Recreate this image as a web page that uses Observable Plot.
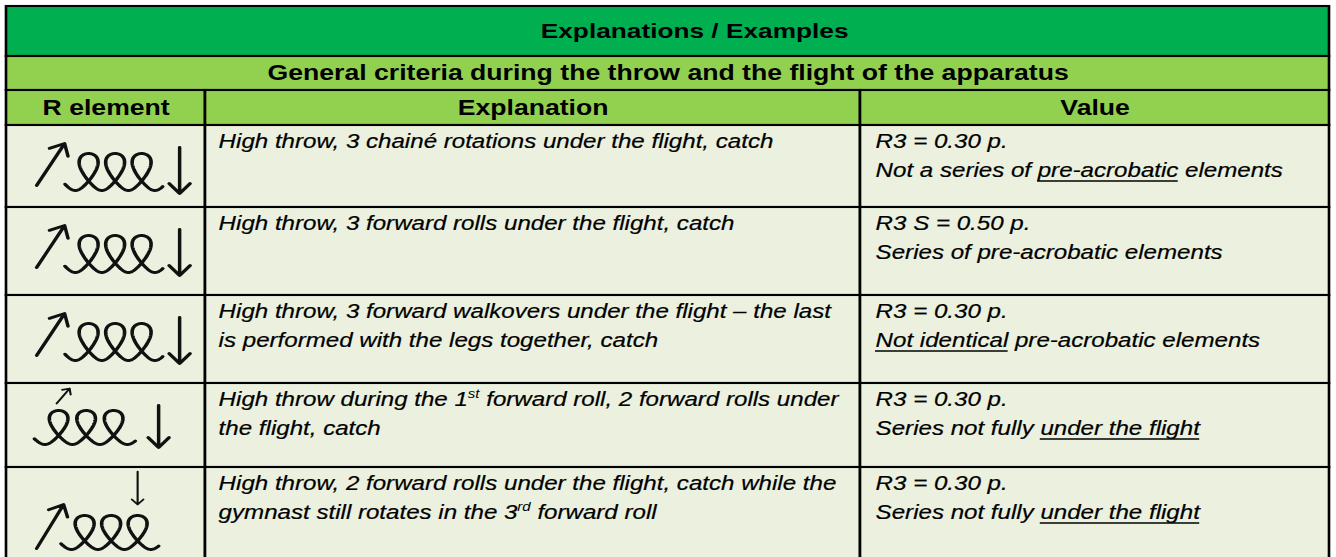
<!DOCTYPE html>
<html>
<head>
<meta charset="utf-8">
<script src="https://cdn.jsdelivr.net/npm/d3@7"></script>
<script src="https://cdn.jsdelivr.net/npm/@observablehq/plot@0.6"></script>
<style>
html, body { margin: 0; padding: 0; background: #ffffff; overflow: hidden; }
#chart svg { display: block; }
</style>
</head>
<body>
<div id="chart"></div>
<script>
// ---------- data ----------
const title = "Explanations / Examples";
const subtitle = "General criteria during the throw and the flight of the apparatus";
const columnHeaders = ["R element", "Explanation", "Value"];
// R element symbol of each row (drawn below): throw arrow, series of rotations, catch arrow
const elementSymbols = ["throw-series-catch", "throw-series-catch", "throw-series-catch", "throw-in-first-catch", "throw-series-catch-in-last"];
const rotationCounts = [3, 3, 3, 3, 3];
// _text_ = underlined, ^text^ = superscript
const explanations = [
  ["High throw, 3 chainé rotations under the flight, catch"],
  ["High throw, 3 forward rolls under the flight, catch"],
  ["High throw, 3 forward walkovers under the flight – the last", "is performed with the legs together, catch"],
  ["High throw during the 1^st^ forward roll, 2 forward rolls under", "the flight, catch"],
  ["High throw, 2 forward rolls under the flight, catch while the", "gymnast still rotates in the 3^rd^ forward roll"]
];
const values = [
  ["R3 = 0.30 p.", "Not a series of _pre-acrobatic_ elements"],
  ["R3 S = 0.50 p.", "Series of pre-acrobatic elements"],
  ["R3 = 0.30 p.", "_Not identical_ pre-acrobatic elements"],
  ["R3 = 0.30 p.", "Series not fully _under the flight_"],
  ["R3 = 0.30 p.", "Series not fully _under the flight_"]
];

// ---------- layout ----------
const S = 1.25;                 // horizontal stretch of the reference
const W = 1336, H = 557, WP = W / S;
const colX = [6, 205, 860, 1329];
const rowY = [6, 56, 90, 125, 207, 295, 383, 467, 562];
const titleX = 694;
const padX = 13, firstLine = 16, lineStep = 29.5;
const BODY = 19.3, SUP = 12, TITLE = 21, BOLD = 21.3;
const FONT = "'Liberation Sans', Arial, Helvetica, sans-serif";
const COLORS = { title: "#00B050", header: "#92D050", body: "#EBF1DE", ink: "#000000", glyph: "#111111" };

// ---------- cells ----------
const cells = [];
cells.push({ x1: colX[0], x2: colX[3], y1: rowY[0], y2: rowY[1], fill: COLORS.title });
cells.push({ x1: colX[0], x2: colX[3], y1: rowY[1], y2: rowY[2], fill: COLORS.header });
for (let c = 0; c < 3; c++) cells.push({ x1: colX[c], x2: colX[c + 1], y1: rowY[2], y2: rowY[3], fill: COLORS.header });
explanations.forEach((_, r) => {
  for (let c = 0; c < 3; c++) cells.push({ x1: colX[c], x2: colX[c + 1], y1: rowY[3 + r], y2: rowY[4 + r], fill: COLORS.body });
});

// ---------- header texts ----------
const titleTexts = [{ x: titleX, y: (rowY[0] + rowY[1]) / 2, text: title }];
const headerTexts = [
  { x: (colX[0] + colX[3]) / 2, y: (rowY[1] + rowY[2]) / 2, text: subtitle },
  ...columnHeaders.map((t, c) => ({ x: (colX[c] + colX[c + 1]) / 2, y: (rowY[2] + rowY[3]) / 2, text: t }))
];

// ---------- rich body text ----------
const ctx = document.createElement("canvas").getContext("2d");
function textW(str, size) {
  ctx.font = `italic ${size}px "Liberation Sans"`;
  return ctx.measureText(str).width * S; // in reference units
}
function parseRich(line) {
  const out = []; const re = /(_[^_]+_|\^[^^]+\^)/g; let last = 0, m;
  while ((m = re.exec(line))) {
    if (m.index > last) out.push({ text: line.slice(last, m.index), kind: "plain" });
    out.push({ text: m[0].slice(1, -1), kind: m[0][0] === "_" ? "under" : "sup" });
    last = re.lastIndex;
  }
  if (last < line.length) out.push({ text: line.slice(last), kind: "plain" });
  return out;
}
const mainSegs = [], supSegs = [], underlines = [];
function layoutCell(lines, x0, top) {
  lines.forEach((line, li) => {
    const yc = top + firstLine + li * lineStep;
    let cur = x0;
    for (const seg of parseRich(line)) {
      const size = seg.kind === "sup" ? SUP : BODY;
      const lead = seg.text.match(/^\s*/)[0];
      const core = seg.text.trim();
      const xs = cur + textW(lead, size);
      if (core) {
        if (seg.kind === "sup") supSegs.push({ x: xs, y: yc - 5.5, text: core });
        else mainSegs.push({ x: xs, y: yc, text: core });
        if (seg.kind === "under") underlines.push({ x1: xs, x2: xs + textW(core, size), y: yc + 10 });
      }
      cur += textW(seg.text, size);
    }
  });
}
explanations.forEach((lines, r) => layoutCell(lines, colX[1] + padX, rowY[3 + r]));
values.forEach((lines, r) => layoutCell(lines, colX[2] + padX + 2, rowY[3 + r]));

// ---------- R element symbols ----------
const symbolLayout = {
  "throw-series-catch": top => ({
    bigUp: { x1: 36, y1: top + 60, x2: 64, y2: top + 18 },
    loops: { firstTop: 88, spacing: 26.5, yTop: top + 28, yBot: top + 65 },
    bigDown: { x1: 179, y1: top + 22, x2: 179, y2: top + 68 }
  }),
  "throw-in-first-catch": top => ({
    smallUp: { x1: 56, y1: top + 20, x2: 69, y2: top + 5 },
    loops: { firstTop: 58, spacing: 27.5, yTop: top + 27, yBot: top + 61 },
    bigDown: { x1: 158, y1: top + 22, x2: 158, y2: top + 64 }
  }),
  "throw-series-catch-in-last": top => ({
    bigUp: { x1: 36, y1: top + 81, x2: 63, y2: top + 37 },
    loops: { firstTop: 84, spacing: 26.5, yTop: top + 48, yBot: top + 82 },
    smallDown: { x1: 137, y1: top + 4, x2: 137, y2: top + 37 }
  })
};
const R0 = 13, R1 = 6; // loop half-width (wider at the top, narrower at the bottom)
const bigArrows = [], smallArrows = [], loopPts = [];
elementSymbols.forEach((kind, r) => {
  const g = symbolLayout[kind](rowY[3 + r]);
  if (g.bigUp) bigArrows.push(g.bigUp);
  if (g.bigDown) bigArrows.push(g.bigDown);
  if (g.smallUp) smallArrows.push(g.smallUp);
  if (g.smallDown) smallArrows.push(g.smallDown);
  const L = g.loops, n = rotationCounts[r];
  const k = L.spacing / (2 * Math.PI);
  const xa = L.firstTop - k * Math.PI;
  const yc = (L.yTop + L.yBot) / 2, hh = (L.yBot - L.yTop) / 2;
  for (let t = -0.85; t <= 2 * Math.PI * n + 0.7; t += 0.04) {
    const R = R0 - R1 * Math.cos(t);
    loopPts.push({ id: r, x: xa + k * t + R * Math.sin(t), y: yc + hh * Math.cos(t) });
  }
});

// ---------- plot ----------
const chart = Plot.plot({
  width: WP, height: H, margin: 0,
  x: { type: "linear", domain: [0, W], range: [0, WP], axis: null },
  y: { type: "linear", domain: [0, H], range: [0, H], axis: null },
  color: { type: "identity" },
  style: { background: "#ffffff", fontFamily: FONT, overflow: "hidden" },
  marks: [
    Plot.rect(cells, { x1: "x1", x2: "x2", y1: "y1", y2: "y2", fill: "fill", stroke: COLORS.ink, strokeWidth: 2.1 }),
    Plot.text(titleTexts, { x: "x", y: "y", text: "text", fontWeight: "bold", fontSize: TITLE, fill: COLORS.ink, textAnchor: "middle", lineAnchor: "middle" }),
    Plot.text(headerTexts, { x: "x", y: "y", text: "text", fontWeight: "bold", fontSize: BOLD, fill: COLORS.ink, textAnchor: "middle", lineAnchor: "middle" }),
    Plot.text(mainSegs, { x: "x", y: "y", text: "text", fontStyle: "italic", fontSize: BODY, fill: COLORS.ink, stroke: COLORS.ink, strokeWidth: 0.2, textAnchor: "start", lineAnchor: "middle" }),
    Plot.text(supSegs, { x: "x", y: "y", text: "text", fontStyle: "italic", fontSize: SUP, fill: COLORS.ink, textAnchor: "start", lineAnchor: "middle" }),
    Plot.ruleY(underlines, { x1: "x1", x2: "x2", y: "y", stroke: COLORS.ink, strokeWidth: 1.4 }),
    Plot.line(loopPts, { x: "x", y: "y", z: "id", stroke: COLORS.glyph, strokeWidth: 2.9, strokeLinecap: "round", strokeLinejoin: "round", curve: "linear" }),
    Plot.arrow(bigArrows, { x1: "x1", y1: "y1", x2: "x2", y2: "y2", stroke: COLORS.glyph, strokeWidth: 2.8, headLength: 7, headAngle: 80 }),
    Plot.arrow(smallArrows, { x1: "x1", y1: "y1", x2: "x2", y2: "y2", stroke: COLORS.glyph, strokeWidth: 1.7, headLength: 6, headAngle: 85 })
  ]
});
chart.setAttribute("width", W);
chart.setAttribute("height", H);
chart.setAttribute("preserveAspectRatio", "none");
chart.style.width = W + "px";
chart.style.height = H + "px";
chart.style.maxWidth = "none";
document.getElementById("chart").appendChild(chart);
</script>
</body>
</html>
